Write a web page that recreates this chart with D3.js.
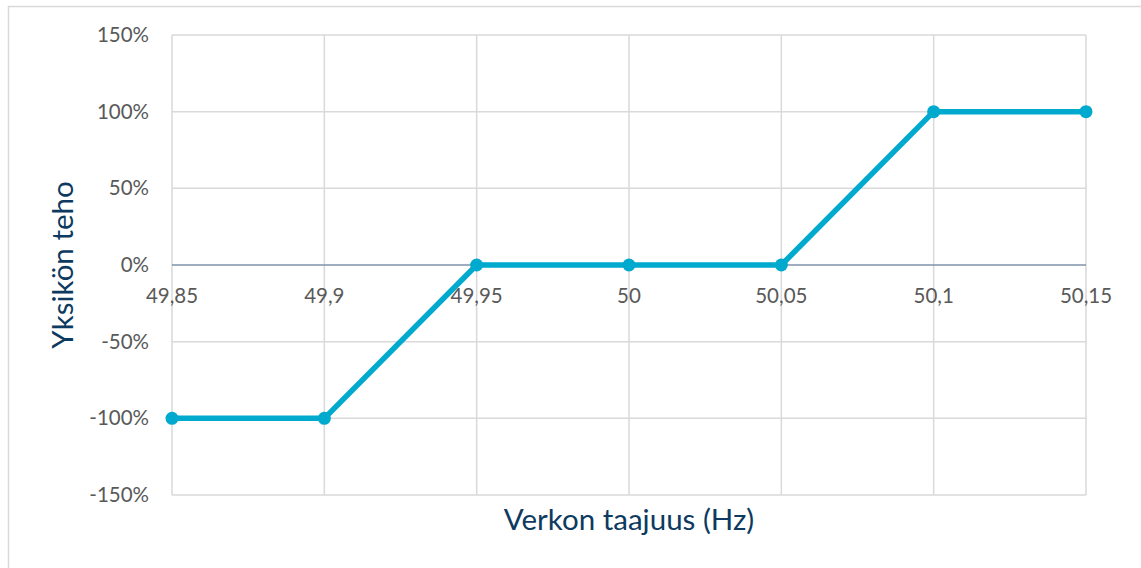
<!DOCTYPE html>
<html>
<head>
<meta charset="utf-8">
<script src="https://cdn.jsdelivr.net/npm/d3@7"></script>
<style>
  body { margin: 0; background: #fff; }
  svg { display: block; font-family: Lato, "Open Sans", sans-serif; }
  .grid line { stroke: #d9d9d9; stroke-width: 1.5; }
  .tick-label { fill: #595959; font-size: 20.5px; }
  .axis-title { fill: #0d3a60; font-size: 29.5px; }
</style>
</head>
<body>
<svg id="chart" width="1141" height="568"></svg>
<script>
// data
var freqs = [49.85, 49.9, 49.95, 50, 50.05, 50.1, 50.15];
var power = [-100, -100, 0, 0, 0, 100, 100];
var xTicks = [49.85, 49.9, 49.95, 50, 50.05, 50.1, 50.15];
var yTicks = [-150, -100, -50, 0, 50, 100, 150];

var svg = d3.select("#chart"),
    margin = {top: 35, right: 55, bottom: 73, left: 172},
    width = svg.attr("width") - margin.left - margin.right,
    height = svg.attr("height") - margin.top - margin.bottom;

// outer chart frame
svg.append("rect")
  .attr("x", 8.5).attr("y", 6.5)
  .attr("width", 1200).attr("height", 700)
  .attr("fill", "none")
  .attr("stroke", "#d9d9d9")
  .attr("stroke-width", 1.5);

var g = svg.append("g").attr("transform", "translate(" + margin.left + "," + margin.top + ")");

var x = d3.scaleLinear().domain([49.85, 50.15]).range([0, width]);
var y = d3.scaleLinear().domain([-150, 150]).range([height, 0]);

var fmtX = function(d) { return d3.format("~g")(+d.toFixed(2)).replace(".", ","); };

// gridlines
var grid = g.append("g").attr("class", "grid");
grid.selectAll(".vx").data(xTicks).enter().append("line")
  .attr("x1", d => x(d)).attr("x2", d => x(d))
  .attr("y1", 0).attr("y2", height);
grid.selectAll(".hy").data(yTicks.filter(d => d !== 0)).enter().append("line")
  .attr("x1", 0).attr("x2", width)
  .attr("y1", d => y(d)).attr("y2", d => y(d));

// zero axis line
g.append("line")
  .attr("x1", 0).attr("x2", width)
  .attr("y1", y(0)).attr("y2", y(0))
  .attr("stroke", "#7f93a8").attr("stroke-width", 1.5);

// y tick labels
g.selectAll(".ylab").data(yTicks).enter().append("text")
  .attr("class", "tick-label")
  .attr("x", -23)
  .attr("y", d => y(d) + 7)
  .attr("text-anchor", "end")
  .text(d => d + "%");

// x tick labels sit under the zero line
g.selectAll(".xlab").data(xTicks).enter().append("text")
  .attr("class", "tick-label")
  .attr("x", d => x(d))
  .attr("y", y(0) + 38)
  .attr("text-anchor", "middle")
  .text(fmtX);

// the series
var line = d3.line()
  .x(function(d, i) { return x(freqs[i]); })
  .y(function(d) { return y(d); });

g.append("path")
  .datum(power)
  .attr("fill", "none")
  .attr("stroke", "#00a9ce")
  .attr("stroke-width", 5.5)
  .attr("stroke-linejoin", "round")
  .attr("d", line);

g.selectAll(".dot").data(power).enter().append("circle")
  .attr("cx", (d, i) => x(freqs[i]))
  .attr("cy", d => y(d))
  .attr("r", 6.5)
  .attr("fill", "#00a9ce");

// axis titles
svg.append("text")
  .attr("class", "axis-title")
  .attr("x", margin.left + width / 2)
  .attr("y", 530)
  .attr("text-anchor", "middle")
  .text("Verkon taajuus (Hz)");

svg.append("text")
  .attr("class", "axis-title")
  .attr("transform", "translate(73," + (margin.top + height / 2) + ") rotate(-90)")
  .attr("text-anchor", "middle")
  .text("Yksikön teho");
</script>
</body>
</html>
